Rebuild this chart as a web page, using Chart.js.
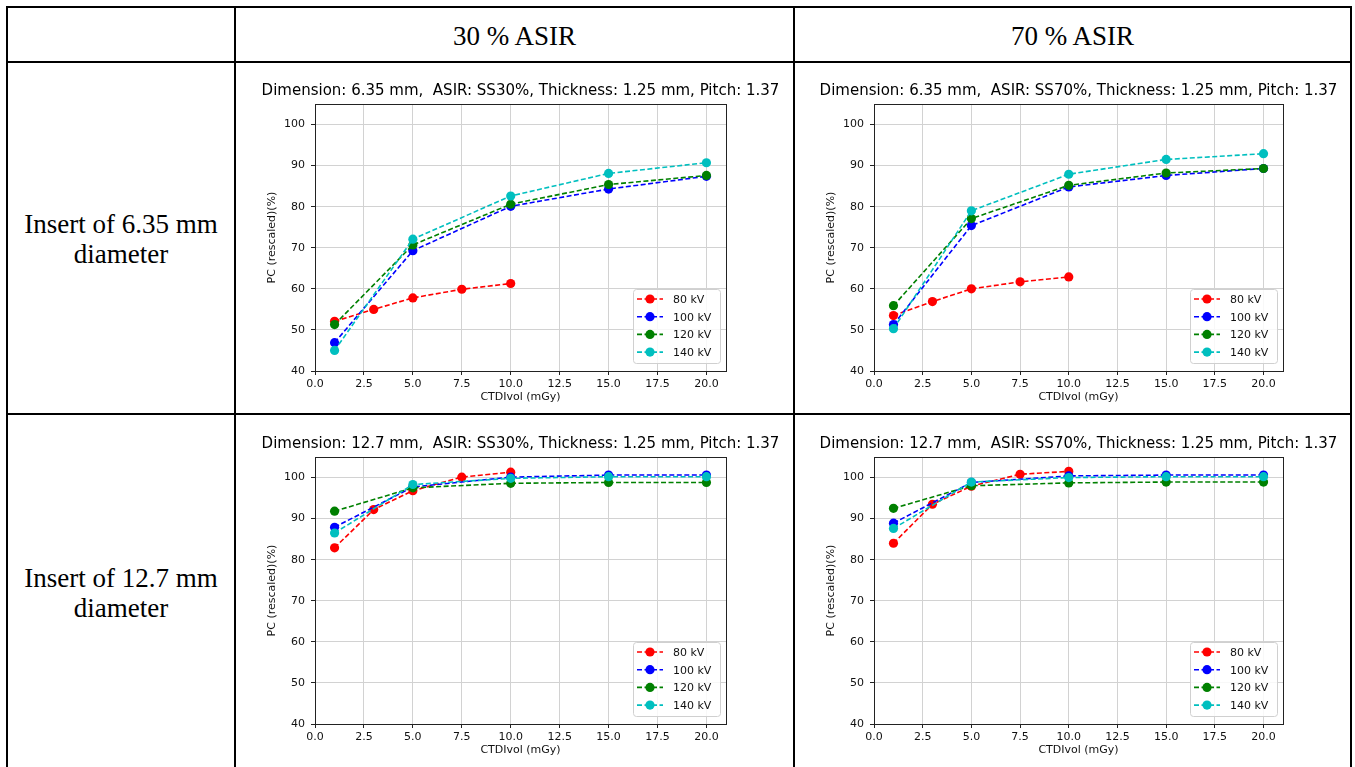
<!DOCTYPE html>
<html>
<head>
<meta charset="utf-8">
<script src="https://cdn.jsdelivr.net/npm/chart.js@4.4.1/dist/chart.umd.min.js"></script>
<style>
  body { margin: 0; background: #fff; width: 1355px; height: 767px; overflow: hidden; position: relative; }
  .hl, .vl { position: absolute; background: #000; z-index: 2; }
  .hl { height: 2px; }
  .vl { width: 2px; }
  .cell-text { position: absolute; font-family: "Liberation Serif", "Times New Roman", serif; font-size: 27px; color: #000; text-align: center; line-height: 30px; }
  canvas { position: absolute; z-index: 1; }
</style>
</head>
<body>

<!-- table grid -->
<div class="hl" style="left:6px; top:6px; width:1346px;"></div>
<div class="hl" style="left:6px; top:61px; width:1346px;"></div>
<div class="hl" style="left:6px; top:413px; width:1346px;"></div>
<div class="vl" style="left:6px; top:6px; height:770px;"></div>
<div class="vl" style="left:234px; top:6px; height:770px;"></div>
<div class="vl" style="left:793px; top:6px; height:770px;"></div>
<div class="vl" style="left:1350px; top:6px; height:770px;"></div>

<div class="cell-text" style="left:236px; width:557px; top:21px;">30 % ASIR</div>
<div class="cell-text" style="left:795px; width:555px; top:21px;">70 % ASIR</div>
<div class="cell-text" style="left:8px; width:226px; top:209px;">Insert of 6.35 mm<br>diameter</div>
<div class="cell-text" style="left:8px; width:226px; top:563px;">Insert of 12.7 mm<br>diameter</div>

<canvas id="c1" width="561" height="344" style="left:240px; top:66px;"></canvas>
<canvas id="c2" width="559" height="344" style="left:799px; top:66px;"></canvas>
<canvas id="c3" width="561" height="344" style="left:240px; top:419px;"></canvas>
<canvas id="c4" width="559" height="344" style="left:799px; top:419px;"></canvas>

<script>
// dose levels (CTDIvol, mGy)
const dose80 = [1, 3, 5, 7.5, 10];
const doseOther = [1, 5, 10, 15, 20];
const xTicks = [0, 2.5, 5, 7.5, 10, 12.5, 15, 17.5, 20];
const yTicks = [40, 50, 60, 70, 80, 90, 100];
const kvLabels = ['80 kV', '100 kV', '120 kV', '140 kV'];
const kvColors = ['#ff0000', '#0000ff', '#008000', '#00bfbf'];

// 6.35 mm, SS30%
const pc635_30_80 = [52.1, 55.0, 57.8, 59.9, 61.3];
const pc635_30_100 = [46.9, 69.3, 80.1, 84.3, 87.4];
const pc635_30_120 = [51.3, 70.7, 80.6, 85.4, 87.6];
const pc635_30_140 = [45.0, 72.1, 82.6, 88.1, 90.7];

// 6.35 mm, SS70%
const pc635_70_80 = [53.5, 56.9, 60.0, 61.7, 62.9];
const pc635_70_100 = [51.3, 75.4, 84.8, 87.6, 89.3];
const pc635_70_120 = [55.9, 77.1, 85.2, 88.2, 89.3];
const pc635_70_140 = [50.3, 79.0, 87.9, 91.5, 92.9];

// 12.7 mm, SS30%
const pc127_30_80 = [82.9, 92.2, 96.8, 100.1, 101.3];
const pc127_30_100 = [87.9, 97.7, 100.1, 100.6, 100.6];
const pc127_30_120 = [91.8, 97.5, 98.6, 98.8, 98.8];
const pc127_30_140 = [86.5, 98.3, 99.8, 100.2, 100.2];

// 12.7 mm, SS70%
const pc127_70_80 = [84.0, 93.5, 97.9, 100.8, 101.5];
const pc127_70_100 = [88.9, 98.8, 100.4, 100.6, 100.6];
const pc127_70_120 = [92.5, 98.0, 98.7, 98.9, 98.9];
const pc127_70_140 = [87.6, 98.9, 100.0, 100.2, 100.2];

Chart.defaults.font.family = "'DejaVu Sans', sans-serif";
Chart.defaults.color = '#111';

// axes frame + legend in the lower right, matplotlib style
const framePlugin = {
    id: 'frame',
    afterDatasetsDraw(chart) {
        const a = chart.chartArea;
        const ctx = chart.ctx;
        ctx.save();
        ctx.strokeStyle = '#222';
        ctx.lineWidth = 1;
        ctx.strokeRect(Math.round(a.left) + 0.5, Math.round(a.top) + 0.5,
            Math.round(a.right - a.left), Math.round(a.bottom - a.top));

        const w = 87, h = 74;
        const bx = a.right - 6 - w, by = a.bottom - 8 - h;
        ctx.beginPath();
        ctx.roundRect(bx + 0.5, by + 0.5, w, h, 3);
        ctx.fillStyle = 'rgba(255,255,255,0.85)';
        ctx.fill();
        ctx.strokeStyle = '#d0d0d0';
        ctx.stroke();

        ctx.font = "11px 'DejaVu Sans'";
        ctx.textBaseline = 'middle';
        chart.data.datasets.forEach(function(ds, i) {
            const cy = by + 10 + i * 17.7;
            ctx.strokeStyle = ds.borderColor;
            ctx.lineWidth = 1.6;
            ctx.setLineDash([5, 2.5]);
            ctx.beginPath();
            ctx.moveTo(bx + 4, cy);
            ctx.lineTo(bx + 30, cy);
            ctx.stroke();
            ctx.setLineDash([]);
            ctx.fillStyle = ds.borderColor;
            ctx.beginPath();
            ctx.arc(bx + 17, cy, 4.6, 0, Math.PI * 2);
            ctx.fill();
            ctx.fillStyle = '#111';
            ctx.fillText(ds.label, bx + 40, cy + 1);
        });
        ctx.restore();
    }
};

function makeChart(id, title, series) {
    const datasets = series.map(function(vals, i) {
        const xs = i === 0 ? dose80 : doseOther;
        return {
            label: kvLabels[i],
            data: vals.map(function(v, j) { return { x: xs[j], y: v }; }),
            borderColor: kvColors[i],
            backgroundColor: kvColors[i],
            pointBackgroundColor: kvColors[i],
            pointBorderWidth: 0,
            pointRadius: 4.6,
            borderWidth: 1.6,
            borderDash: [5, 2.5],
            tension: 0,
            order: 3 - i
        };
    });
    return new Chart(document.getElementById(id).getContext('2d'), {
        type: 'line',
        data: { datasets: datasets },
        plugins: [framePlugin],
        options: {
            responsive: false,
            animation: false,
            devicePixelRatio: 1,
            layout: { padding: 0 },
            plugins: {
                legend: { display: false },
                tooltip: { enabled: false },
                title: {
                    display: true,
                    text: title,
                    color: '#000',
                    font: { size: 15, weight: 'normal' },
                    padding: { top: 16, bottom: 4 }
                }
            },
            scales: {
                x: {
                    type: 'linear',
                    min: 0,
                    max: 21,
                    afterBuildTicks: function(s) { s.ticks = xTicks.map(function(v) { return { value: v }; }); },
                    afterFit: function(s) { s.height = 39; },
                    ticks: { font: { size: 11 }, padding: 3, maxRotation: 0,
                             callback: function(v) { return Number(v).toFixed(1); } },
                    grid: { color: '#d2d2d2', tickColor: '#222', tickLength: 4 },
                    border: { display: false },
                    title: { display: true, text: 'CTDIvol (mGy)', font: { size: 11 }, padding: { top: 0, bottom: 6.4 } }
                },
                y: {
                    min: 40,
                    max: 105,
                    afterBuildTicks: function(s) { s.ticks = yTicks.map(function(v) { return { value: v }; }); },
                    afterFit: function(s) { s.width = 75; },
                    ticks: { font: { size: 11 }, padding: 6 },
                    grid: { color: '#d2d2d2', tickColor: '#222', tickLength: 4 },
                    border: { display: false },
                    title: { display: true, text: 'PC (rescaled)(%)', font: { size: 11 }, padding: { top: 25.4, bottom: 0 } }
                },
                // empty right-hand margin so the title centres over the plot
                yr: {
                    type: 'linear',
                    position: 'right',
                    display: true,
                    min: 40,
                    max: 105,
                    afterFit: function(s) { s.width = 75; },
                    ticks: { display: false },
                    grid: { display: false },
                    border: { display: false }
                }
            }
        }
    });
}

makeChart('c1', 'Dimension: 6.35 mm,  ASIR: SS30%, Thickness: 1.25 mm, Pitch: 1.37',
    [pc635_30_80, pc635_30_100, pc635_30_120, pc635_30_140]);
makeChart('c2', 'Dimension: 6.35 mm,  ASIR: SS70%, Thickness: 1.25 mm, Pitch: 1.37',
    [pc635_70_80, pc635_70_100, pc635_70_120, pc635_70_140]);
makeChart('c3', 'Dimension: 12.7 mm,  ASIR: SS30%, Thickness: 1.25 mm, Pitch: 1.37',
    [pc127_30_80, pc127_30_100, pc127_30_120, pc127_30_140]);
makeChart('c4', 'Dimension: 12.7 mm,  ASIR: SS70%, Thickness: 1.25 mm, Pitch: 1.37',
    [pc127_70_80, pc127_70_100, pc127_70_120, pc127_70_140]);
</script>
</body>
</html>
